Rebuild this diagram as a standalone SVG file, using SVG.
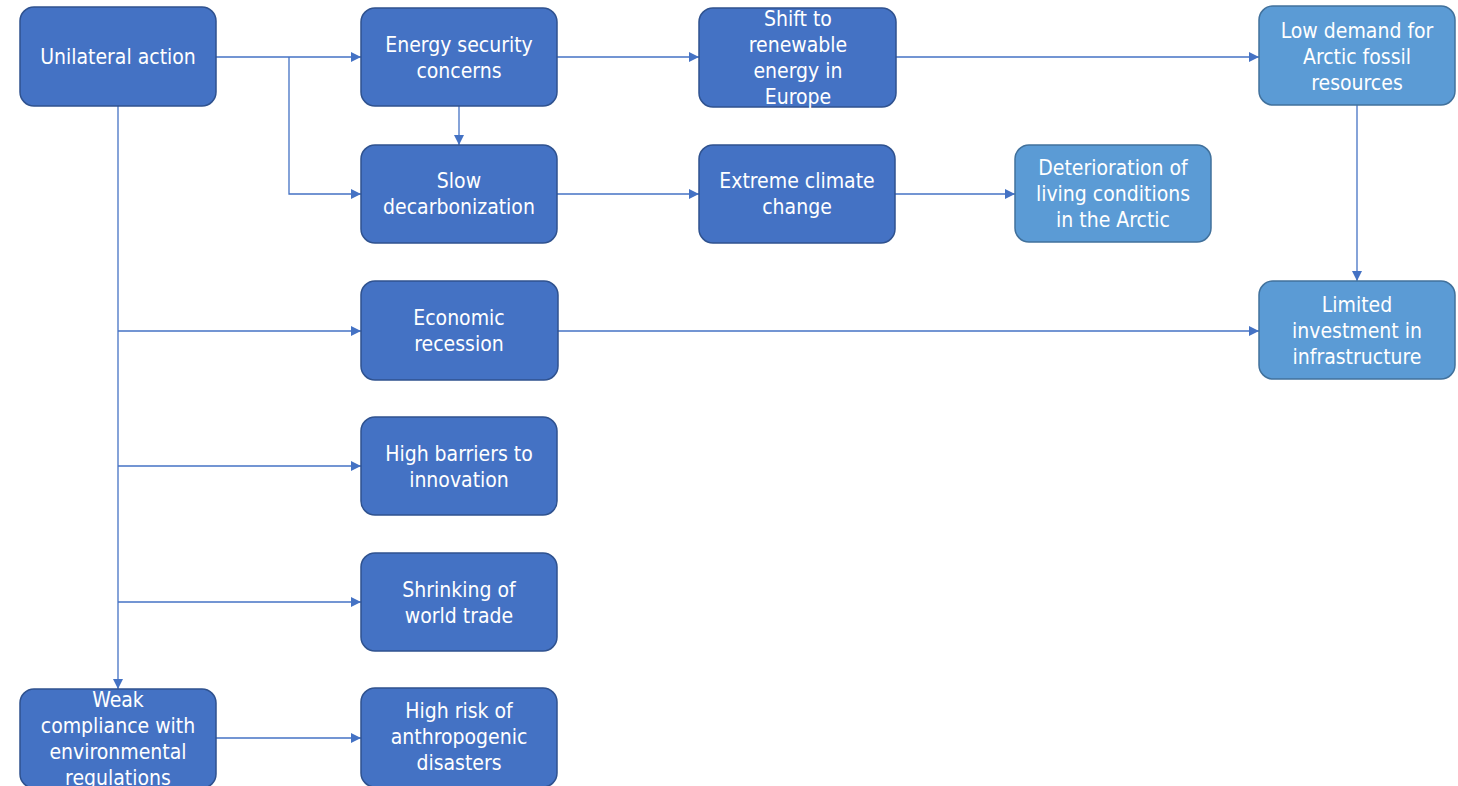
<svg xmlns="http://www.w3.org/2000/svg" width="1458" height="786" viewBox="0 0 1458 786">
  <style>
    .box { stroke-width: 1.5; }
    .dark { fill: #4472C4; stroke: #2F528F; }
    .light { fill: #5B9BD5; stroke: #41719C; }
    .label { font-family: "DejaVu Sans Condensed", "DejaVu Sans", sans-serif; font-stretch: condensed; font-size: 21px; fill: #FFFFFF; text-anchor: middle; }
    .link { fill: none; stroke: #4472C4; stroke-width: 1.3; marker-end: url(#arrow); }
    .trunk { fill: none; stroke: #4472C4; stroke-width: 1.3; }
  </style>
  <defs>
    <marker id="arrow" viewBox="0 0 10 10" refX="10" refY="5" markerWidth="10" markerHeight="10" markerUnits="userSpaceOnUse" orient="auto">
      <path d="M0,0 L10,5 L0,10 Z" fill="#4472C4"/>
    </marker>
  </defs>

  <rect width="1458" height="786" fill="#FFFFFF"/>

  <!-- connectors -->
  <g id="connectors">
    <path class="link" d="M216,57 H361"/>
    <path class="link" d="M289,57 V194 H361"/>
    <path class="link" d="M459,106 V145"/>
    <path class="link" d="M557,57 H699"/>
    <path class="link" d="M896,57 H1259"/>
    <path class="link" d="M557,194 H699"/>
    <path class="link" d="M895,194 H1015"/>
    <path class="link" d="M1357,105 V281"/>
    <path class="link" d="M558,331 H1259"/>
    <path class="link" d="M118,106 V689"/>
    <path class="link" d="M118,331 H361"/>
    <path class="link" d="M118,466 H361"/>
    <path class="link" d="M118,602 H361"/>
    <path class="link" d="M215,738 H361"/>
  </g>

  <!-- nodes -->
  <g id="unilateral-action">
    <rect class="box dark" x="20" y="7" width="196" height="99" rx="14"/>
    <text class="label" x="118" y="64">Unilateral action</text>
  </g>
  <g id="energy-security">
    <rect class="box dark" x="361" y="8" width="196" height="98" rx="14"/>
    <text class="label" x="459" y="52">Energy security</text>
    <text class="label" x="459" y="78">concerns</text>
  </g>
  <g id="slow-decarbonization">
    <rect class="box dark" x="361" y="145" width="196" height="98" rx="14"/>
    <text class="label" x="459" y="188">Slow</text>
    <text class="label" x="459" y="214">decarbonization</text>
  </g>
  <g id="shift-renewable">
    <rect class="box dark" x="699" y="8" width="197" height="99" rx="14"/>
    <text class="label" x="798" y="26">Shift to</text>
    <text class="label" x="798" y="52">renewable</text>
    <text class="label" x="798" y="78">energy in</text>
    <text class="label" x="798" y="104">Europe</text>
  </g>
  <g id="extreme-climate">
    <rect class="box dark" x="699" y="145" width="196" height="98" rx="14"/>
    <text class="label" x="797" y="188">Extreme climate</text>
    <text class="label" x="797" y="214">change</text>
  </g>
  <g id="deterioration">
    <rect class="box light" x="1015" y="145" width="196" height="97" rx="14"/>
    <text class="label" x="1113" y="175">Deterioration of</text>
    <text class="label" x="1113" y="201">living conditions</text>
    <text class="label" x="1113" y="227">in the Arctic</text>
  </g>
  <g id="low-demand">
    <rect class="box light" x="1259" y="6" width="196" height="99" rx="14"/>
    <text class="label" x="1357" y="38">Low demand for</text>
    <text class="label" x="1357" y="64">Arctic fossil</text>
    <text class="label" x="1357" y="90">resources</text>
  </g>
  <g id="limited-investment">
    <rect class="box light" x="1259" y="281" width="196" height="98" rx="14"/>
    <text class="label" x="1357" y="312">Limited</text>
    <text class="label" x="1357" y="338">investment in</text>
    <text class="label" x="1357" y="364">infrastructure</text>
  </g>
  <g id="economic-recession">
    <rect class="box dark" x="361" y="281" width="197" height="99" rx="14"/>
    <text class="label" x="459" y="325">Economic</text>
    <text class="label" x="459" y="351">recession</text>
  </g>
  <g id="high-barriers">
    <rect class="box dark" x="361" y="417" width="196" height="98" rx="14"/>
    <text class="label" x="459" y="461">High barriers to</text>
    <text class="label" x="459" y="487">innovation</text>
  </g>
  <g id="shrinking-trade">
    <rect class="box dark" x="361" y="553" width="196" height="98" rx="14"/>
    <text class="label" x="459" y="597">Shrinking of</text>
    <text class="label" x="459" y="623">world trade</text>
  </g>
  <g id="weak-compliance">
    <rect class="box dark" x="20" y="689" width="196" height="99" rx="14"/>
    <text class="label" x="118" y="707">Weak</text>
    <text class="label" x="118" y="733">compliance with</text>
    <text class="label" x="118" y="759">environmental</text>
    <text class="label" x="118" y="785">regulations</text>
  </g>
  <g id="high-risk">
    <rect class="box dark" x="361" y="688" width="196" height="99" rx="14"/>
    <text class="label" x="459" y="718">High risk of</text>
    <text class="label" x="459" y="744">anthropogenic</text>
    <text class="label" x="459" y="770">disasters</text>
  </g>
</svg>
